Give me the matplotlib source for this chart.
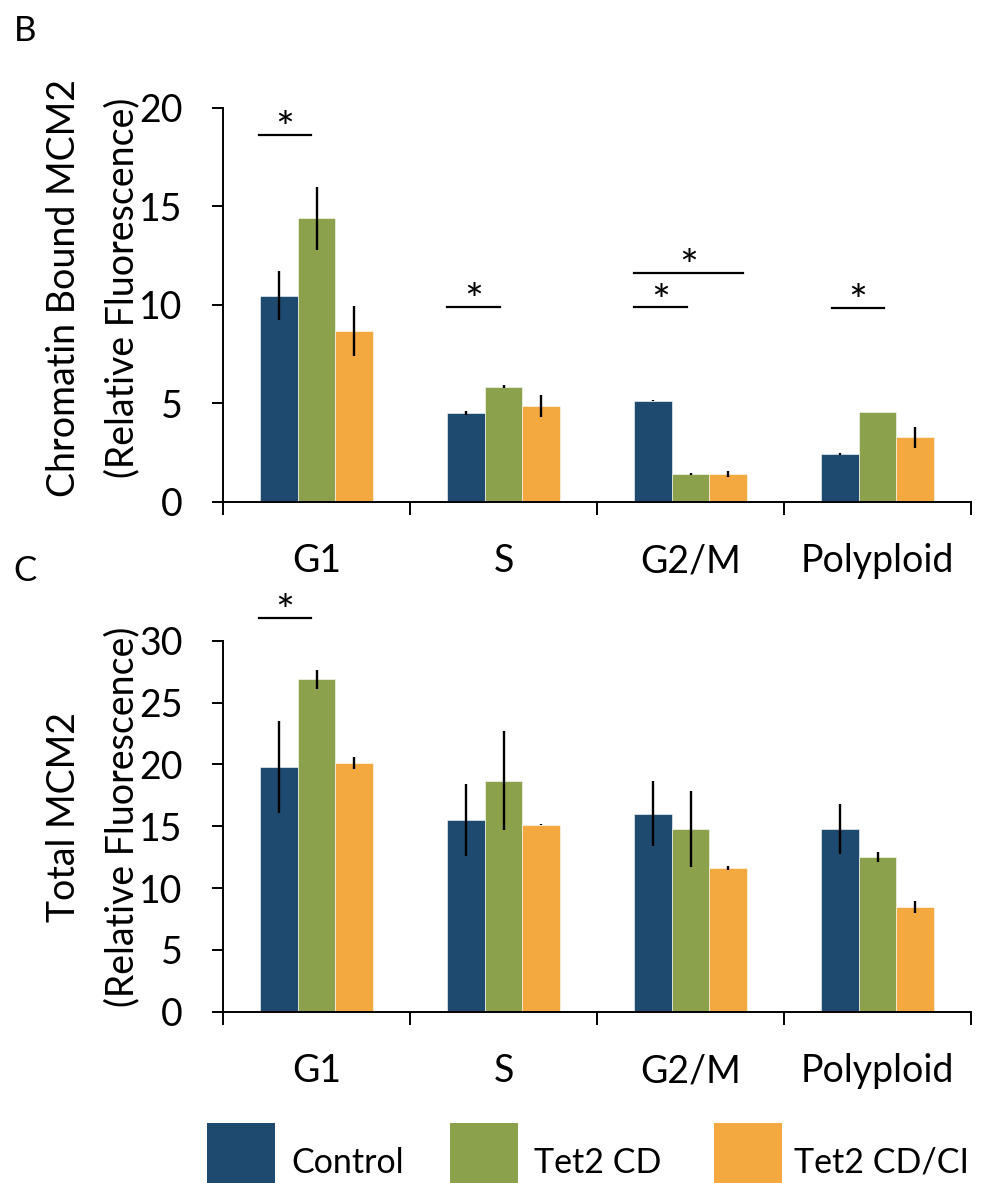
import matplotlib
matplotlib.use("Agg")
import matplotlib.pyplot as plt
import numpy as np
from matplotlib.patches import Rectangle

plt.rcParams["font.family"] = ["Lato", "DejaVu Sans"]

phases = ["G1", "S", "G2/M", "Polyploid"]
groups = ["Control", "Tet2 CD", "Tet2 CD/CI"]
colors = ["#1F4A6F", "#8BA14B", "#F4A840"]

# chromatin bound MCM2, mean and error per phase
bound_control = [10.47, 4.50, 5.13, 2.42]
bound_control_err = [1.25, 0.10, 0.03, 0.05]
bound_cd = [14.39, 5.84, 1.41, 4.55]
bound_cd_err = [1.58, 0.08, 0.03, 0.0]
bound_cdci = [8.68, 4.86, 1.41, 3.27]
bound_cdci_err = [1.26, 0.58, 0.15, 0.52]

# total MCM2, mean and error per phase
total_control = [19.81, 15.50, 16.01, 14.79]
total_control_err = [3.72, 2.90, 2.64, 2.01]
total_cd = [26.87, 18.67, 14.79, 12.53]
total_cd_err = [0.78, 3.99, 3.07, 0.42]
total_cdci = [20.08, 15.12, 11.62, 8.46]
total_cdci_err = [0.48, 0.05, 0.19, 0.49]

# significance brackets: (x start, x end, height)
bound_sig = [(-0.31, -0.03, 18.63), (0.70, 0.98, 9.9), (1.70, 2.28, 11.64),
             (1.70, 1.98, 9.88), (2.755, 3.033, 9.85)]
total_sig = [(-0.31, -0.03, 31.85)]

FS = 27
LW = 1.4


def draw_panel(ax, means, errs, ymax, sig, ylabel, label_y):
    x = np.arange(len(phases))
    width = 0.2
    for i, (m, e, c) in enumerate(zip(means, errs, colors)):
        ax.bar(x + (i - 1) * width, m, width, color=c, edgecolor="white",
               linewidth=0.4, yerr=e,
               error_kw=dict(ecolor="black", elinewidth=1.7, capsize=0))
    for x0, x1, y in sig:
        ax.plot([x0, x1], [y, y], color="black", lw=1.6, clip_on=False)
        ax.annotate("*", xy=((x0 + x1) / 2, y), xytext=(0, 3),
                    textcoords="offset points", ha="center", va="center",
                    fontsize=32, annotation_clip=False)

    ax.set_xlim(-0.5, 3.5)
    ax.set_ylim(0, ymax)
    ax.set_yticks(np.arange(0, ymax + 1, 5))
    ax.set_xticks(x)
    ax.set_xticklabels(phases)
    ax.set_xticks(np.arange(-0.5, 4, 1), minor=True)
    ax.tick_params(axis="x", which="major", length=0, pad=30, labelsize=FS)
    ax.tick_params(axis="x", which="minor", length=9.5, width=LW, direction="out")
    ax.tick_params(axis="y", length=8, width=LW, direction="out", pad=21,
                   labelsize=FS)
    for side in ("top", "right"):
        ax.spines[side].set_visible(False)
    for side in ("left", "bottom"):
        ax.spines[side].set_linewidth(LW)
    ax.set_ylabel(ylabel, fontsize=FS, linespacing=1.8)
    ax.yaxis.set_label_coords(-0.110, label_y)


W, H = 984, 1183
fig = plt.figure(figsize=(W / 100, H / 100), dpi=100)
ax_b = fig.add_axes([223 / W, 1 - 501.7 / H, 748 / W, 393.7 / H])
ax_c = fig.add_axes([223 / W, 1 - 1011.7 / H, 748 / W, 371 / H])

draw_panel(ax_b, [bound_control, bound_cd, bound_cdci],
           [bound_control_err, bound_cd_err, bound_cdci_err],
           20, bound_sig, "Chromatin Bound MCM2\n(Relative Fluorescence)", 0.543)
draw_panel(ax_c, [total_control, total_cd, total_cdci],
           [total_control_err, total_cd_err, total_cdci_err],
           30, total_sig, "Total MCM2\n(Relative Fluorescence)", 0.525)

fig.text(14 / W, 1 - 41 / H, "B", fontsize=25, va="baseline")
fig.text(13 / W, 1 - 581 / H, "C", fontsize=25, va="baseline")

# legend along the bottom edge
for x0, tx, name, c in zip([207, 450, 714], [291, 534, 794], groups, colors):
    fig.add_artist(Rectangle((x0 / W, 0), 68 / W, 60 / H, transform=fig.transFigure,
                             facecolor=c, edgecolor="none"))
    fig.text(tx / W, 1 - 1173 / H, name, fontsize=24.5, va="baseline")

fig.savefig("out.png", dpi=100)
